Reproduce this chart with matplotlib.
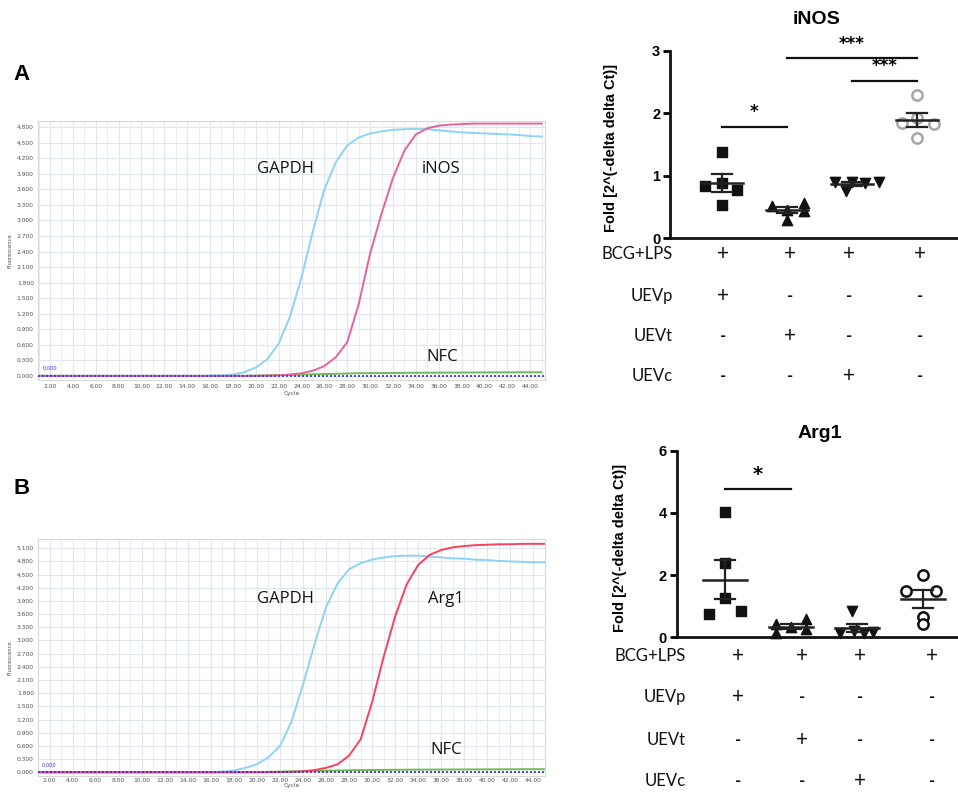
import matplotlib
matplotlib.use('Agg')
import matplotlib.pyplot as plt
import numpy as np

# ---------------- data ----------------
cycles = list(range(1, 46))

gapdh_a = [0.00, 0.00, 0.00, 0.00, 0.00, 0.00, 0.00, 0.00, 0.00, 0.00,
           0.00, 0.00, 0.00, 0.00, 0.00, 0.005, 0.01, 0.025, 0.07, 0.16,
           0.32, 0.62, 1.15, 1.90, 2.80, 3.60, 4.12, 4.45, 4.60, 4.68,
           4.72, 4.75, 4.76, 4.77, 4.76, 4.74, 4.72, 4.70, 4.69, 4.68,
           4.67, 4.66, 4.65, 4.63, 4.62]
inos_a = [0.00, 0.00, 0.00, 0.00, 0.00, 0.00, 0.00, 0.00, 0.00, 0.00,
          0.00, 0.00, 0.00, 0.00, 0.00, 0.00, 0.00, 0.00, 0.00, 0.00,
          0.005, 0.01, 0.025, 0.05, 0.10, 0.19, 0.36, 0.65, 1.38, 2.36,
          3.13, 3.82, 4.35, 4.66, 4.78, 4.83, 4.85, 4.86, 4.87, 4.87,
          4.87, 4.87, 4.87, 4.87, 4.87]
nfc_a = [0.00, 0.00, 0.00, 0.00, 0.00, 0.00, 0.00, 0.00, 0.00, 0.00,
         0.00, 0.00, 0.00, 0.00, 0.00, 0.00, 0.00, 0.00, 0.00, 0.005,
         0.01, 0.015, 0.02, 0.025, 0.03, 0.035, 0.04, 0.045, 0.05, 0.052,
         0.054, 0.056, 0.058, 0.06, 0.061, 0.062, 0.063, 0.064, 0.065, 0.066,
         0.067, 0.068, 0.069, 0.07, 0.07]

gapdh_b = [0.00, 0.00, 0.00, 0.00, 0.00, 0.00, 0.00, 0.00, 0.00, 0.00,
           0.00, 0.00, 0.00, 0.00, 0.00, 0.005, 0.015, 0.04, 0.10, 0.18,
           0.34, 0.60, 1.15, 2.00, 2.92, 3.76, 4.30, 4.62, 4.76, 4.84,
           4.89, 4.92, 4.93, 4.93, 4.91, 4.89, 4.87, 4.86, 4.84, 4.83,
           4.81, 4.80, 4.79, 4.78, 4.78]
arg1_b = [0.00, 0.00, 0.00, 0.00, 0.00, 0.00, 0.00, 0.00, 0.00, 0.00,
          0.00, 0.00, 0.00, 0.00, 0.00, 0.00, 0.00, 0.00, 0.00, 0.00,
          0.00, 0.005, 0.01, 0.02, 0.05, 0.10, 0.18, 0.38, 0.75, 1.60,
          2.63, 3.55, 4.28, 4.72, 4.95, 5.06, 5.12, 5.15, 5.17, 5.18,
          5.19, 5.19, 5.20, 5.20, 5.20]
nfc_b = [0.00, 0.00, 0.00, 0.00, 0.00, 0.00, 0.00, 0.00, 0.00, 0.00,
         0.00, 0.00, 0.00, 0.00, 0.00, 0.00, 0.00, 0.00, 0.00, 0.005,
         0.01, 0.015, 0.02, 0.025, 0.03, 0.035, 0.04, 0.045, 0.05, 0.052,
         0.054, 0.056, 0.058, 0.06, 0.061, 0.062, 0.063, 0.064, 0.065, 0.066,
         0.067, 0.068, 0.069, 0.07, 0.07]

a_yticks = [0.0, 0.3, 0.6, 0.9, 1.2, 1.5, 1.8, 2.1, 2.4, 2.7, 3.0, 3.3,
            3.6, 3.9, 4.2, 4.5, 4.8]
b_yticks = [0.0, 0.3, 0.6, 0.9, 1.2, 1.5, 1.8, 2.1, 2.4, 2.7, 3.0, 3.3,
            3.6, 3.9, 4.2, 4.5, 4.8, 5.1]
cycle_ticks = [2, 4, 6, 8, 10, 12, 14, 16, 18, 20, 22, 24, 26, 28, 30, 32,
               34, 36, 38, 40, 42, 44]

inos_vals = [[1.385, 0.84, 0.88, 0.77, 0.53],
             [0.52, 0.46, 0.57, 0.43, 0.30],
             [0.895, 0.905, 0.76, 0.88, 0.895],
             [2.29, 1.84, 1.92, 1.83, 1.60]]
arg1_vals = [[4.04, 2.38, 1.25, 0.74, 0.85],
             [0.42, 0.13, 0.32, 0.59, 0.26],
             [0.83, 0.14, 0.20, 0.13, 0.17],
             [2.00, 1.50, 1.50, 0.66, 0.43]]
inos_yticks = [0, 1, 2, 3]
arg1_yticks = [0, 2, 4, 6]

row_labels = ['BCG+LPS', 'UEVp', 'UEVt', 'UEVc']
design = [['+', '+', '+', '+'],
          ['+', '-', '-', '-'],
          ['-', '+', '-', '-'],
          ['-', '-', '+', '-']]

inos_sig = [(0, 1, '*'), (1, 3, '***'), (2, 3, '***')]
inos_sig_y = [1.78, 2.88, 2.52]
arg1_sig = [(0, 1, '*')]
arg1_sig_y = [4.76]

# ---------------- style / layout ----------------
W, H = 958, 792
fig = plt.figure(figsize=(W / 100, H / 100), dpi=100)

def fx(px):
    return px / W

def fy(py):
    return 1 - py / H

C_GAPDH = '#8dd3f3'
C_INOS = '#e8609c'
C_ARG1 = '#f9405e'
C_NFC = '#72b855'
C_THR = '#2a2aff'
GRID = '#e1e5ee'
LABEL_FONT = ['Open Sans', 'DejaVu Sans']
TABLE_FONT = ['Lato', 'DejaVu Sans']
AX_FONT = ['Liberation Sans Narrow', 'Liberation Sans', 'DejaVu Sans']


def qpcr_axes(rect, xlim, ylim, yticks, curves, labels):
    ax = fig.add_axes(rect)
    ax.set_xlim(*xlim)
    ax.set_ylim(*ylim)
    ax.set_xticks(cycle_ticks)
    ax.set_xticklabels(['%.2f' % t for t in cycle_ticks])
    ax.set_yticks(yticks)
    ax.set_yticklabels(['%.3f' % t for t in yticks])
    ax.set_xticks(cycles, minor=True)
    ax.grid(True, which='major', color=GRID, lw=0.8)
    ax.grid(True, which='minor', axis='x', color=GRID, lw=0.5)
    ax.set_axisbelow(True)
    ax.tick_params(which='both', length=0, labelsize=4.3, labelcolor='#505050',
                   pad=3)
    for s in ax.spines.values():
        s.set_color('#d8d8d8')
        s.set_linewidth(0.8)
    for vals, col in curves:
        ax.plot(cycles, vals, color=col, lw=1.4, solid_joinstyle='round')
    ax.axhline(0.0, color=C_THR, lw=1.2, ls=(0, (1.2, 1.2)), zorder=5)
    ax.text(1.35, 0.02 * (ylim[1] - ylim[0]), '0.000', color=C_THR, fontsize=3.6,
            va='bottom', ha='left')
    for txt, x, y in labels:
        ax.text(x, y, txt, fontsize=12, family=LABEL_FONT, ha='center',
                va='center', color='#111111')
    ax.set_ylabel('Fluorescence', fontsize=3.8, color='#505050', labelpad=3)
    ax.set_xlabel('Cycle', fontsize=4.2, color='#505050', labelpad=1)
    return ax


# Panel A qPCR
axA = qpcr_axes([fx(38), fy(380), fx(545) - fx(38), fy(121) - fy(380)],
                (0.95, 45.3), (-0.08, 4.92), a_yticks,
                [(nfc_a, C_NFC), (gapdh_a, C_GAPDH), (inos_a, C_INOS)],
                [('GAPDH', 22.6, 4.0), ('iNOS', 36.2, 4.0), ('NFC', 36.3, 0.36)])
# Panel B qPCR
axB = qpcr_axes([fx(38), fy(776), fx(545) - fx(38), fy(539) - fy(776)],
                (1.4, 45.0), (-0.085, 5.31), b_yticks,
                [(nfc_b, C_NFC), (gapdh_b, C_GAPDH), (arg1_b, C_ARG1)],
                [('GAPDH', 22.5, 3.95), ('Arg1', 36.4, 3.95), ('NFC', 36.4, 0.51)])
axB.tick_params(axis='x', pad=1.5)
axB.xaxis.labelpad = 0

fig.text(fx(22), fy(75), 'A', fontsize=16, fontweight='bold', ha='center',
         va='center', family=['Liberation Sans', 'DejaVu Sans'])
fig.text(fx(22), fy(488), 'B', fontsize=16, fontweight='bold', ha='center',
         va='center', family=['Liberation Sans', 'DejaVu Sans'])


def scatter_axes(rect, xlim, ylim, yticks, vals, offsets, circle_col, title,
                 title_px, sig, sig_y, star_size, ylabel_x):
    ax = fig.add_axes(rect)
    ax.set_xlim(*xlim)
    ax.set_ylim(*ylim)
    for s in ['top', 'right']:
        ax.spines[s].set_visible(False)
    for s in ['left', 'bottom']:
        ax.spines[s].set_linewidth(2.0)
        ax.spines[s].set_color('#111111')
    ax.set_xticks([])
    ax.set_yticks(yticks)
    ax.set_yticklabels([str(t) for t in yticks], fontweight='bold',
                       family=['Liberation Sans', 'DejaVu Sans'])
    ax.tick_params(axis='y', length=5, width=2, labelsize=10.5, pad=2)
    markers = ['s', '^', 'v', 'o']
    for i, (v, off) in enumerate(zip(vals, offsets)):
        xs = [i + o for o in off]
        if markers[i] == 'o':
            ax.scatter(xs, v, marker='o', s=55, facecolors='white',
                       edgecolors=circle_col, linewidths=1.8, zorder=3,
                       clip_on=False)
        else:
            ax.scatter(xs, v, marker=markers[i], s=55, color='#111111',
                       zorder=3, clip_on=False)
        arr = np.array(v)
        m = arr.mean()
        se = arr.std(ddof=1) / np.sqrt(len(arr))
        ecol = '#222222'
        ax.plot([i - 0.33, i + 0.33], [m, m], color=ecol, lw=1.8, zorder=4)
        ax.plot([i, i], [m - se, m + se], color=ecol, lw=1.6, zorder=4)
        for yy in (m - se, m + se):
            ax.plot([i - 0.15, i + 0.15], [yy, yy], color=ecol, lw=1.6, zorder=4)
    for (a, b, txt), yy in zip(sig, sig_y):
        ax.plot([a, b], [yy, yy], color='#111111', lw=1.6, clip_on=False)
        ax.text((a + b) / 2, yy + 0.03 * (ylim[1] - ylim[0]), txt,
                ha='center', va='bottom', fontsize=star_size, fontweight='bold',
                clip_on=False)
    ax.set_ylabel('Fold [2^(-delta delta Ct)]', fontsize=10.5, fontweight='bold',
                  family=AX_FONT)
    ax.yaxis.set_label_coords(ylabel_x, 0.48)
    fig.text(fx(title_px[0]), fy(title_px[1]), title, fontsize=14,
             fontweight='bold', ha='center', va='center',
             family=['Liberation Sans', 'DejaVu Sans'])
    return ax


inos_offsets = [[0.0, -0.26, 0.0, 0.23, 0.0],
                [-0.23, 0.0, 0.26, 0.26, 0.0],
                [-0.26, 0.0, -0.1, 0.2, 0.41],
                [0.0, -0.23, 0.0, 0.26, 0.0]]
arg1_offsets = [[0.0, 0.0, 0.0, -0.24, 0.25],
                [-0.23, -0.23, 0.0, 0.23, 0.23],
                [-0.08, -0.25, -0.05, 0.1, 0.25],
                [0.0, -0.25, 0.2, 0.0, 0.0]]

axI = scatter_axes([fx(670), fy(238.3), fx(958) - fx(670), fy(50.7) - fy(238.3)],
                   (-0.8, 3.63), (0, 3), inos_yticks, inos_vals, inos_offsets,
                   '#a6a6a6', 'iNOS', (817, 20), inos_sig, inos_sig_y, 12, -0.18)
axR = scatter_axes([fx(676.7), fy(637.3), fx(958) - fx(676.7), fy(450.7) - fy(637.3)],
                   (-0.73, 3.53), (0, 6), arg1_yticks, arg1_vals, arg1_offsets,
                   '#111111', 'Arg1', (820, 433), arg1_sig, arg1_sig_y, 14, -0.177)


def design_table(label_right_px, col_px, row_px):
    for r, lab in enumerate(row_labels):
        fig.text(fx(label_right_px), fy(row_px[r]), lab, fontsize=12,
                 family=TABLE_FONT, ha='right', va='center', color='#111111')
        for c, sym in enumerate(design[r]):
            fig.text(fx(col_px[c]), fy(row_px[r]), sym,
                     fontsize=15 if sym == '+' else 12,
                     family=TABLE_FONT, ha='center', va='center',
                     color='#111111', fontweight='bold' if sym == '-' else 'normal')


design_table(673, [723, 790, 849, 920], [254, 296, 336, 376])
design_table(686, [738, 802, 860, 932], [656, 697, 740, 781])

fig.savefig('out.png', dpi=100, facecolor='white')
